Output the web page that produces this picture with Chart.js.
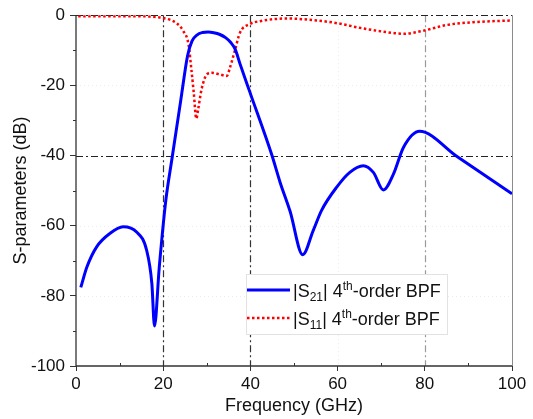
<!DOCTYPE html>
<html>
<head>
<meta charset="utf-8">
<script src="https://cdn.jsdelivr.net/npm/chart.js@4"></script>
<style>
  html, body { margin: 0; padding: 0; background: #fff; }
  #wrap { width: 533px; height: 419px; }
</style>
</head>
<body>
<div id="wrap"><canvas id="myChart" width="533" height="419"></canvas></div>
<script>
// |S21| of the 4th-order BPF (frequency in GHz, magnitude in dB)
const s21Freq = [1.1, 2.5, 4.7, 7.8, 10.8, 13.9, 16.2, 17.4, 18.0, 19.1, 20.6, 22.0, 24.0, 25.6, 26.6, 27.8, 29.0, 30.3, 31.6, 33.0, 34.3, 35.5, 36.5, 37.6, 39.9, 44.9, 46.8, 49.1, 52.0, 54.4, 56.3, 59.8, 62.8, 65.9, 68.2, 70.5, 72.8, 75.1, 78.8, 87.3, 100];
const s21Db = [-77.6, -71.8, -66.1, -62.2, -60.3, -61.8, -67.0, -76.5, -88.6, -71.8, -52.8, -41.0, -24.5, -11.5, -7.4, -5.6, -4.95, -4.8, -5.0, -5.5, -6.4, -7.8, -9.7, -13.8, -22.0, -39.8, -47.6, -55.9, -68.3, -61.4, -55.7, -49.0, -44.8, -42.9, -44.8, -49.8, -45.3, -37.7, -33.1, -40.2, -50.9];

// |S11| of the 4th-order BPF
const s11Freq = [0.5, 5, 10, 15, 17, 20, 23.1, 24.6, 25.8, 26.5, 27.0, 27.6, 28.0, 28.8, 30.0, 31.1, 33.0, 34.6, 35.3, 36.5, 37.6, 39.9, 42.2, 48.3, 55.2, 60, 65.1, 70.5, 75.1, 79.7, 85, 91.1, 100];
const s11Db = [-0.3, -0.3, -0.3, -0.3, -0.4, -0.8, -2.3, -4.5, -8.3, -15.9, -22.0, -29.5, -27.0, -21.1, -16.9, -16.4, -16.9, -17.3, -15.0, -9.8, -5.0, -2.5, -1.7, -0.95, -1.5, -2.3, -3.6, -4.7, -5.3, -4.4, -2.8, -2.0, -1.5];

// axis ticks
const xTicks = [0, 20, 40, 60, 80, 100];
const yTicks = [-100, -80, -60, -40, -20, 0];

// reference lines (dash-dot)
const refX = [20, 40, 80];
const refY = [-40, 0];

const toPoints = (xs, ys) => xs.map((x, i) => ({ x: x, y: ys[i] }));

const FONT = "'Liberation Sans', Arial, sans-serif";
const DASHDOT = [7, 3, 2, 3];

// grid, reference lines, minor ticks and frame
const framePlugin = {
  id: 'frame',
  beforeDatasetsDraw(chart) {
    const { ctx, chartArea: a, scales: { x, y } } = chart;
    ctx.save();

    // faint grid
    ctx.strokeStyle = '#ececec';
    ctx.lineWidth = 1;
    ctx.setLineDash([1, 3]);
    xTicks.forEach(v => {
      if (refX.includes(v) || v === 0 || v === 100) return;
      const px = Math.round(x.getPixelForValue(v)) + 0.5;
      ctx.beginPath(); ctx.moveTo(px, a.top); ctx.lineTo(px, a.bottom); ctx.stroke();
    });
    yTicks.forEach(v => {
      if (refY.includes(v) || v === -100) return;
      const py = Math.round(y.getPixelForValue(v)) + 0.5;
      ctx.beginPath(); ctx.moveTo(a.left, py); ctx.lineTo(a.right, py); ctx.stroke();
    });

    // dash-dot reference lines
    ctx.setLineDash(DASHDOT);
    ctx.lineWidth = 1.2;
    refX.forEach(v => {
      ctx.strokeStyle = v === 80 ? '#9a9a9a' : '#333';
      const px = Math.round(x.getPixelForValue(v)) + 0.5;
      ctx.beginPath(); ctx.moveTo(px, a.top); ctx.lineTo(px, a.bottom); ctx.stroke();
    });
    ctx.strokeStyle = '#222';
    refY.forEach(v => {
      const py = Math.round(y.getPixelForValue(v)) + 0.5;
      ctx.beginPath(); ctx.moveTo(a.left, py); ctx.lineTo(a.right, py); ctx.stroke();
    });

    // right border
    ctx.setLineDash([]);
    ctx.strokeStyle = '#8a8a8a';
    ctx.lineWidth = 1;
    ctx.beginPath(); ctx.moveTo(a.right + 0.5, a.top); ctx.lineTo(a.right + 0.5, a.bottom); ctx.stroke();

    // left and bottom axes
    ctx.strokeStyle = '#333';
    ctx.lineWidth = 1.3;
    ctx.beginPath();
    ctx.moveTo(a.left, a.top); ctx.lineTo(a.left, a.bottom); ctx.lineTo(a.right, a.bottom);
    ctx.stroke();

    // minor ticks
    ctx.lineWidth = 1;
    for (let v = -90; v < 0; v += 20) {
      const py = Math.round(y.getPixelForValue(v)) + 0.5;
      ctx.beginPath(); ctx.moveTo(a.left - 3, py); ctx.lineTo(a.left, py); ctx.stroke();
    }
    for (let v = 10; v < 100; v += 20) {
      const px = Math.round(x.getPixelForValue(v)) + 0.5;
      ctx.beginPath(); ctx.moveTo(px, a.bottom); ctx.lineTo(px, a.bottom - 3); ctx.stroke();
    }
    ctx.restore();
  }
};

// legend with sub- and superscripts
const legendPlugin = {
  id: 'bpfLegend',
  afterDatasetsDraw(chart) {
    const { ctx } = chart;
    const box = { x: 246, y: 274, w: 201, h: 60 };
    ctx.save();
    ctx.fillStyle = '#fff';
    ctx.fillRect(box.x, box.y, box.w, box.h);
    ctx.strokeStyle = '#e2e2e2';
    ctx.lineWidth = 1;
    ctx.strokeRect(box.x + 0.5, box.y + 0.5, box.w, box.h);

    const rows = [
      { ds: chart.data.datasets[0], sub: '21', lineY: 290, baseY: 297 },
      { ds: chart.data.datasets[1], sub: '11', lineY: 318, baseY: 325 }
    ];
    rows.forEach(r => {
      ctx.strokeStyle = r.ds.borderColor;
      ctx.lineWidth = r.ds.borderWidth;
      ctx.setLineDash(r.ds.borderDash || []);
      ctx.beginPath(); ctx.moveTo(247, r.lineY); ctx.lineTo(290, r.lineY); ctx.stroke();
      ctx.setLineDash([]);

      ctx.fillStyle = '#111';
      ctx.textBaseline = 'alphabetic';
      ctx.textAlign = 'left';
      let tx = 293;
      const parts = [
        { t: '|S', size: 18, dy: 0 },
        { t: r.sub, size: 12, dy: 4 },
        { t: '| 4', size: 18, dy: 0 },
        { t: 'th', size: 12, dy: -7 },
        { t: '-order BPF', size: 18, dy: 0 }
      ];
      parts.forEach(p => {
        ctx.font = p.size + 'px ' + FONT;
        ctx.fillText(p.t, tx, r.baseY + p.dy);
        tx += ctx.measureText(p.t).width;
      });
    });
    ctx.restore();
  }
};

const ctx = document.getElementById('myChart').getContext('2d');

new Chart(ctx, {
  type: 'line',
  data: {
    datasets: [
      {
        label: '|S21| 4th-order BPF',
        data: toPoints(s21Freq, s21Db),
        borderColor: '#0000ff',
        borderWidth: 3,
        pointRadius: 0,
        cubicInterpolationMode: 'monotone',
        fill: false
      },
      {
        label: '|S11| 4th-order BPF',
        data: toPoints(s11Freq, s11Db),
        borderColor: '#ff0000',
        borderWidth: 2.5,
        borderDash: [2.5, 2.5],
        pointRadius: 0,
        cubicInterpolationMode: 'monotone',
        fill: false
      }
    ]
  },
  options: {
    responsive: false,
    animation: false,
    events: [],
    layout: { padding: { top: 14, right: 21, left: 0, bottom: 0 } },
    plugins: {
      legend: { display: false },
      tooltip: { enabled: false }
    },
    scales: {
      x: {
        type: 'linear',
        min: 0,
        max: 100,
        afterFit: s => { s.height = 53; },
        afterBuildTicks: s => { s.ticks = xTicks.map(v => ({ value: v })); },
        grid: { drawOnChartArea: false, tickLength: 5, tickColor: '#333', lineWidth: 1 },
        border: { display: false },
        ticks: { color: '#111', font: { family: FONT, size: 17 }, padding: 3, maxRotation: 0 },
        title: {
          display: true,
          text: 'Frequency (GHz)',
          color: '#111',
          font: { family: FONT, size: 18 },
          padding: { top: 0, bottom: 2 }
        }
      },
      y: {
        type: 'linear',
        min: -100,
        max: 0,
        afterFit: s => { s.width = 76; },
        afterBuildTicks: s => { s.ticks = yTicks.map(v => ({ value: v })); },
        grid: { drawOnChartArea: false, tickLength: 6, tickColor: '#333', lineWidth: 1 },
        border: { display: false },
        ticks: { color: '#111', font: { family: FONT, size: 17 }, padding: 5 },
        title: {
          display: true,
          text: 'S-parameters (dB)',
          color: '#111',
          font: { family: FONT, size: 18 },
          padding: { top: 10, bottom: 0 }
        }
      }
    }
  },
  plugins: [framePlugin, legendPlugin]
});
</script>
</body>
</html>
